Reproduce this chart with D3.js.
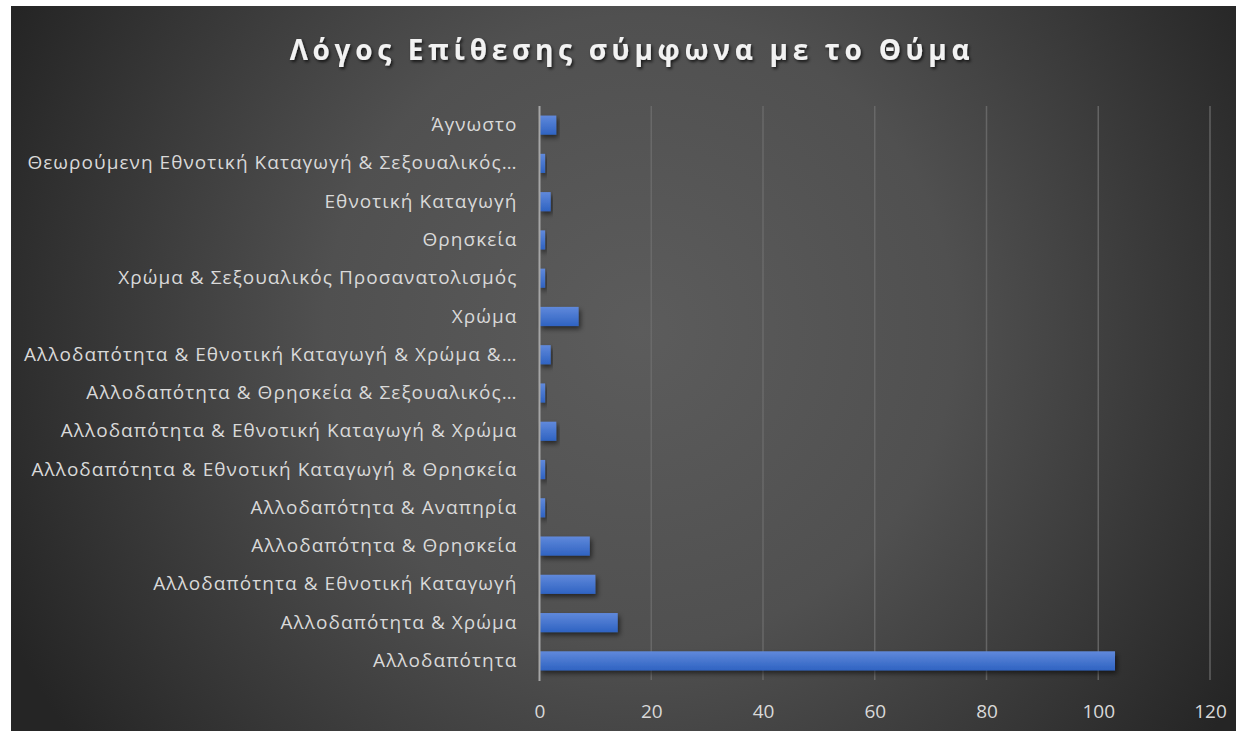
<!DOCTYPE html>
<html><head><meta charset="utf-8">
<script src="https://cdn.jsdelivr.net/npm/d3@7"></script>
<style>
html,body{margin:0;padding:0;background:#fff;}
svg{display:block;}
</style></head>
<body>
<script>
const categories = [
  "Άγνωστο",
  "Θεωρούμενη Εθνοτική Καταγωγή & Σεξουαλικός…",
  "Εθνοτική Καταγωγή",
  "Θρησκεία",
  "Χρώμα & Σεξουαλικός Προσανατολισμός",
  "Χρώμα",
  "Αλλοδαπότητα & Εθνοτική Καταγωγή & Χρώμα &…",
  "Αλλοδαπότητα & Θρησκεία & Σεξουαλικός…",
  "Αλλοδαπότητα & Εθνοτική Καταγωγή & Χρώμα",
  "Αλλοδαπότητα & Εθνοτική Καταγωγή & Θρησκεία",
  "Αλλοδαπότητα & Αναπηρία",
  "Αλλοδαπότητα & Θρησκεία",
  "Αλλοδαπότητα & Εθνοτική Καταγωγή",
  "Αλλοδαπότητα & Χρώμα",
  "Αλλοδαπότητα"
];
const values = [3, 1, 2, 1, 1, 7, 2, 1, 3, 1, 1, 9, 10, 14, 103];
const xTicks = [0, 20, 40, 60, 80, 100, 120];
const title = "Λόγος Επίθεσης σύμφωνα με το Θύμα";

const W = 1248, H = 737;
const svg = d3.select("body").append("svg").attr("width", W).attr("height", H);
const defs = svg.append("defs");

const bg = defs.append("radialGradient").attr("id","bg")
  .attr("gradientUnits","userSpaceOnUse")
  .attr("cx",640).attr("cy",330).attr("r",700);
bg.append("stop").attr("offset","0%").attr("stop-color","#5c5c5c");
bg.append("stop").attr("offset","45%").attr("stop-color","#505050");
bg.append("stop").attr("offset","100%").attr("stop-color","#252525");

const bar = defs.append("linearGradient").attr("id","bar").attr("x1",0).attr("y1",0).attr("x2",0).attr("y2",1);
bar.append("stop").attr("offset","0%").attr("stop-color","#6089db");
bar.append("stop").attr("offset","100%").attr("stop-color","#2f63c2");

const sh = defs.append("filter").attr("id","sh").attr("x","-10%").attr("y","-30%").attr("width","130%").attr("height","180%");
sh.append("feDropShadow").attr("dx",2).attr("dy",3).attr("stdDeviation",2.5).attr("flood-color","#000").attr("flood-opacity",0.55);

const tsh = defs.append("filter").attr("id","tsh").attr("x","-5%").attr("y","-30%").attr("width","110%").attr("height","170%");
tsh.append("feDropShadow").attr("dx",1.5).attr("dy",2).attr("stdDeviation",1.5).attr("flood-color","#000").attr("flood-opacity",0.7);

svg.append("rect").attr("x",11).attr("y",6).attr("width",1225).attr("height",725).attr("fill","url(#bg)");

const x = d3.scaleLinear().domain([0,120]).range([539.5, 1210]);
const y = d3.scaleBand().domain(categories).range([106, 680]).paddingInner(0.5).paddingOuter(0.25);

// gridlines
svg.append("g").selectAll("line").data(xTicks.slice(1)).join("line")
  .attr("x1", d=>x(d)).attr("x2", d=>x(d)).attr("y1",106).attr("y2",680)
  .attr("stroke","#6e6e6e").attr("stroke-width",1.5).attr("stroke-opacity",0.8);

// bars
svg.append("g").selectAll("rect").data(values).join("rect")
  .attr("x", x(0)).attr("y",(d,i)=>y(categories[i]))
  .attr("width", d=>x(d)-x(0)).attr("height", y.bandwidth())
  .attr("fill","url(#bar)").attr("filter","url(#sh)");

// y axis line
svg.append("line").attr("x1",x(0)).attr("x2",x(0)).attr("y1",106).attr("y2",681)
  .attr("stroke","#a6a6a6").attr("stroke-width",2);

// y labels
const yAxis = d3.axisLeft(y).tickSize(0).tickPadding(22);
const gy = svg.append("g").attr("transform",`translate(${x(0)},0)`).call(yAxis);
gy.select(".domain").remove();
gy.selectAll("text").attr("fill","#d9d9d9").style("font-family","'Open Sans', sans-serif")
  .style("font-size","19px").style("letter-spacing","1.05px");

// x labels
const xAxis = d3.axisBottom(x).tickValues(xTicks).tickSize(0).tickPadding(0);
const gx = svg.append("g").attr("transform","translate(0,704)").call(xAxis);
gx.select(".domain").remove();
gx.selectAll("text").attr("fill","#d9d9d9").style("font-family","'Open Sans', sans-serif").style("font-size","19px");

svg.append("text").attr("x",632).attr("y",60).attr("text-anchor","middle")
  .attr("fill","#f2f2f2").attr("filter","url(#tsh)")
  .style("font-family","'Open Sans', sans-serif").style("font-weight","bold")
  .style("font-size","28px").style("letter-spacing","4.7px").text(title);
</script>
</body></html>
